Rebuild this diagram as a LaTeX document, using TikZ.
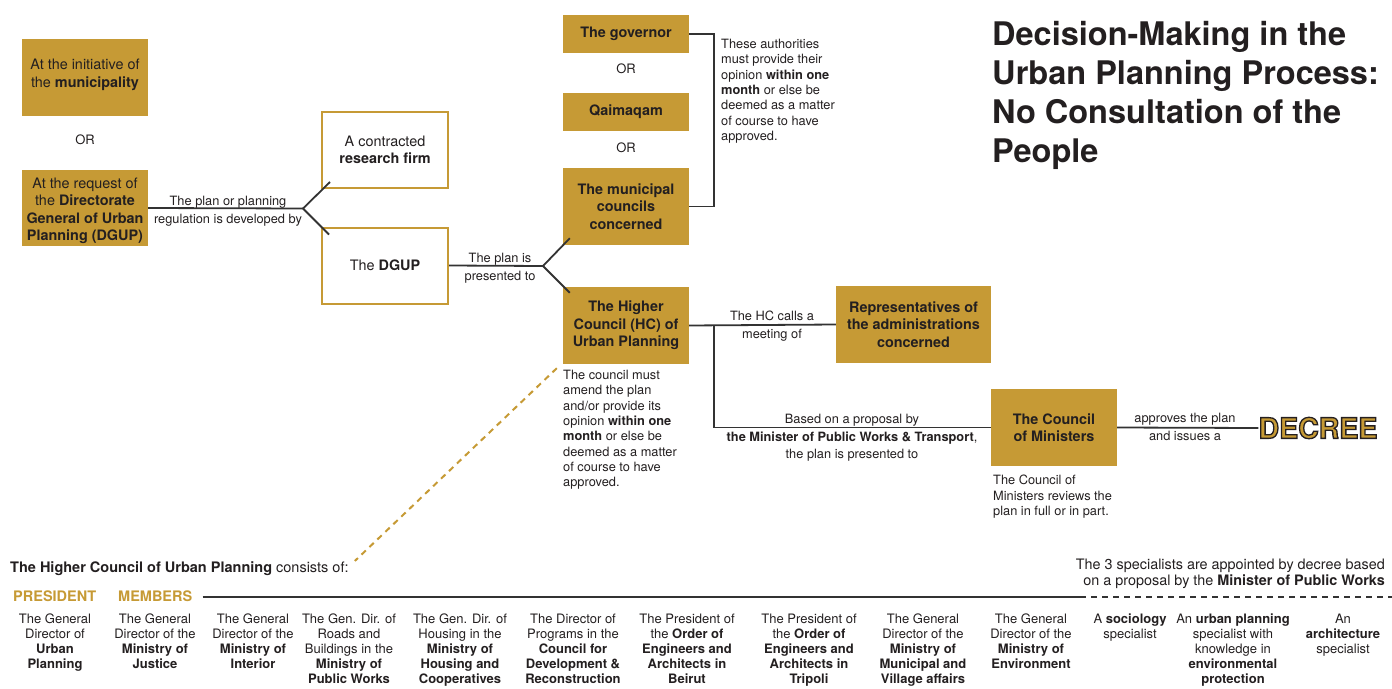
\documentclass[tikz,border=0pt]{standalone}
\usepackage{fontspec}
\setmainfont{TeX Gyre Heros}
\usepackage{xcolor}
\usepackage{tikz}
\usetikzlibrary{calc}
\definecolor{gold}{RGB}{198,154,53}
\definecolor{ink}{RGB}{35,31,32}
\definecolor{wire}{RGB}{51,51,51}

\begin{document}
\begin{tikzpicture}[
  x=1pt, y=-1pt,
  every node/.style={text=ink, inner sep=0pt},
  goldbox/.style={rectangle, fill=gold, minimum width=126pt, minimum height=77pt,
                  align=center, font=\fontsize{14.4}{17.5}\selectfont},
  whitebox/.style={rectangle, draw=gold, line width=2pt, fill=white, minimum width=126pt,
                  minimum height=76pt, align=center, font=\fontsize{14.4}{17.5}\selectfont},
  orlabel/.style={font=\fontsize{13}{15}\selectfont},
  lbl/.style={align=center, font=\fontsize{12.8}{18}\selectfont},
  note/.style={align=left, anchor=north west, font=\fontsize{12.8}{15.3}\selectfont},
  member/.style={align=center, anchor=north, font=\fontsize{13}{15}\selectfont},
  rank/.style={text=gold, font=\fontsize{14.5}{16}\selectfont\bfseries},
  conn/.style={draw=wire, line width=1.8pt},
  goldash/.style={draw=gold, line width=2pt, dash pattern=on 6pt off 5pt}
]
\useasboundingbox (0,0) rectangle (1392,688);

%--- Title ---%
\node[anchor=north west, align=left, font=\fontsize{32.5}{39}\selectfont\bfseries]
  (title) at (992,21) {Decision-Making in the\\Urban Planning Process:\\No Consultation of the\\People};

%--- Who initiates ---%
\node[goldbox] (muni) at (85,77.5) {At the initiative of\\the \textbf{municipality}\vspace{5pt}};
\node[orlabel] (or1) at (85,140) {OR};
\node[goldbox, minimum height=76pt] (request) at (85,208)
  {\rule{0pt}{16.5pt}At the request of\\the \textbf{Directorate}\\\textbf{General of Urban}\\\textbf{Planning (DGUP)}};

%--- Who develops ---%
\node[whitebox] (firm) at (385,150) {A contracted\\\textbf{research firm}};
\node[whitebox] (dgup) at (385,265.5) {The \textbf{DGUP}};

%--- Who receives ---%
\node[goldbox, minimum height=38pt] (governor) at (626,34) {\textbf{The governor}};
\node[orlabel] (or2) at (626,69) {OR};
\node[goldbox, minimum height=38pt] (qaimaqam) at (626,112) {\textbf{Qaimaqam}};
\node[orlabel] (or3) at (626,148) {OR};
\node[goldbox] (councils) at (626,206.5) {\textbf{The municipal}\\\textbf{councils}\\\textbf{concerned}};
\node[goldbox] (hc) at (626,325.5) {\textbf{The Higher}\\\textbf{Council (HC) of}\\\textbf{Urban Planning}};
\node[goldbox, minimum width=155pt] (reps) at (913.5,324.5)
  {\textbf{Representatives of}\\\textbf{the administrations}\\\textbf{concerned}};
\node[goldbox] (cm) at (1054,427.5) {\textbf{The Council}\\\textbf{of Ministers}};
\node[text=gold, font=\fontsize{28.5}{30}\selectfont\bfseries] (decree) at (1318,428)
  {\special{pdf:literal direct 2 Tr 1.3 w 0.14 0.12 0.13 RG}DECREE\special{pdf:literal direct 0 Tr}};

%--- Notes ---%
\node[note] (authnote) at (721,39)
  {These authorities\\must provide their\\opinion \textbf{within one}\\\textbf{month} or else be\\deemed as a matter\\of course to have\\approved.};
\node[note] (hcnote) at (563,370)
  {The council must\\amend the plan\\and/or provide its\\opinion \textbf{within one}\\\textbf{month} or else be\\deemed as a matter\\of course to have\\approved.};
\node[note] (cmnote) at (993,475)
  {The Council of\\Ministers reviews the\\plan in full or in part.};

%--- Connectors ---%
\coordinate (fork1) at (303,208.5);
\coordinate (fork2) at (543,266);
\coordinate (bracket) at (714,34);
\coordinate (split) at (714,325);

\draw[conn] (request.east) -- (fork1);
\draw[conn] (fork1) -- ($(firm.south west)+(9,-7)$);
\draw[conn] (fork1) -- ($(dgup.north west)+(8,8)$);
\draw[conn] (dgup.east) -- (fork2);
\draw[conn] (fork2) -- ($(councils.south west)+(7,-7)$);
\draw[conn] (fork2) -- ($(hc.north west)+(7,6)$);
\draw[conn] (governor.east) -- (bracket) |- (councils.east);
\draw[conn] (hc.east) -- (reps.west);
\draw[conn] (split) |- (cm.west);
\draw[conn] (cm.east) -- (decree.west);

%--- Connector labels ---%
\node[lbl] (lbl1) at (228,211) {The plan or planning\\regulation is developed by};
\node[lbl] (lbl2) at (500,268) {The plan is\\presented to};
\node[lbl] (lbl3) at (772,326) {The HC calls a\\meeting of};
\node[lbl, font=\fontsize{12.8}{17.5}\selectfont] (lbl4) at (852,438)
  {Based on a proposal by\\\textbf{the Minister of Public Works \& Transport},\\the plan is presented to};
\node[lbl] (lbl5) at (1185,427) {approves the plan\\and issues a};

%--- Composition of the Higher Council ---%
\node[anchor=west, font=\fontsize{14.5}{16}\selectfont] (consists) at (10,569)
  {\textbf{The Higher Council of Urban Planning} consists of:};
\draw[goldash] ($(hc.south west)+(-6,4)$) -- ($(consists.east)+(6,-8)$);

\node[rank, anchor=west] (president) at (13,596) {PRESIDENT};
\node[rank, anchor=west] (members) at (118,596) {MEMBERS};
\node[align=right, anchor=east, font=\fontsize{14.4}{16.3}\selectfont] (specialists) at (1385,574)
  {The 3 specialists are appointed by decree based\\on a proposal by the \textbf{Minister of Public Works}};
\coordinate (split3) at (1080,597);
\coordinate (ruleend) at (1392,597);
\draw[draw=wire, line width=1.6pt] ($(members.east)+(10,1)$) -- (split3);
\draw[draw=wire, line width=1.4pt, dash pattern=on 6pt off 5pt] (split3) -- (ruleend);

\node[member] (m1) at (55,614) {The General\\Director of\\\textbf{Urban}\\\textbf{Planning}};
\node[member] (m2) at (155,614) {The General\\Director of the\\\textbf{Ministry of}\\\textbf{Justice}};
\node[member] (m3) at (253,614) {The General\\Director of the\\\textbf{Ministry of}\\\textbf{Interior}};
\node[member] (m4) at (349,614) {The Gen. Dir. of\\Roads and\\Buildings in the\\\textbf{Ministry of}\\\textbf{Public Works}};
\node[member] (m5) at (460,614) {The Gen. Dir. of\\Housing in the\\\textbf{Ministry of}\\\textbf{Housing and}\\\textbf{Cooperatives}};
\node[member] (m6) at (573,614) {The Director of\\Programs in the\\\textbf{Council for}\\\textbf{Development \&}\\\textbf{Reconstruction}};
\node[member] (m7) at (687,614) {The President of\\the \textbf{Order of}\\\textbf{Engineers and}\\\textbf{Architects in}\\\textbf{Beirut}};
\node[member] (m8) at (809,614) {The President of\\the \textbf{Order of}\\\textbf{Engineers and}\\\textbf{Architects in}\\\textbf{Tripoli}};
\node[member] (m9) at (923,614) {The General\\Director of the\\\textbf{Ministry of}\\\textbf{Municipal and}\\\textbf{Village affairs}};
\node[member] (m10) at (1031,614) {The General\\Director of the\\\textbf{Ministry of}\\\textbf{Environment}};
\node[member] (m11) at (1130,614) {A \textbf{sociology}\\specialist};
\node[member] (m12) at (1233,614) {An \textbf{urban planning}\\specialist with\\knowledge in\\\textbf{environmental}\\\textbf{protection}};
\node[member] (m13) at (1343,614) {An\\\textbf{architecture}\\specialist};

\end{tikzpicture}
\end{document}
